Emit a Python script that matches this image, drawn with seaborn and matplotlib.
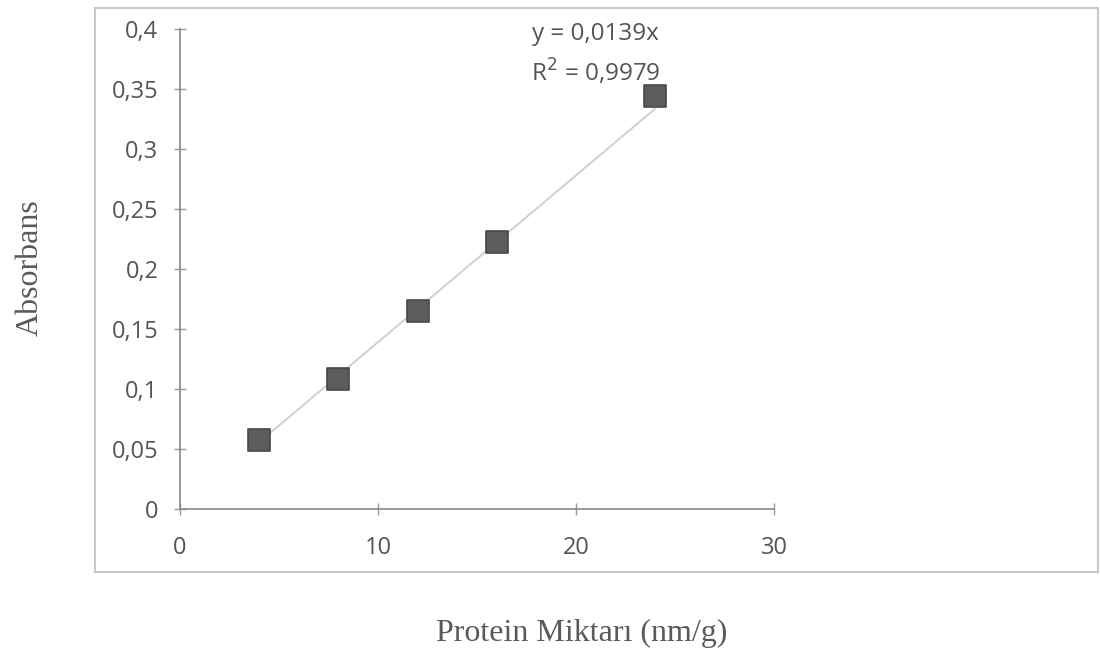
import pandas as pd
import seaborn as sns
import matplotlib.pyplot as plt
from matplotlib.patches import Rectangle
from matplotlib.ticker import FuncFormatter

# Protein standard curve values
protein = [4, 8, 12, 16, 24]
absorbance = [0.0575, 0.108, 0.165, 0.2225, 0.344]
slope = 0.0139
r_squared = 0.9979

x_ticks = [0, 10, 20, 30]
y_ticks = [0, 0.05, 0.1, 0.15, 0.2, 0.25, 0.3, 0.35, 0.4]

df = pd.DataFrame({"protein": protein, "absorbance": absorbance})
df["trend"] = slope * df["protein"]

sns.set_style("white")
plt.rcParams["font.family"] = ["Open Sans", "DejaVu Sans"]

fig = plt.figure(figsize=(11, 6.56), dpi=100)
ax = fig.add_axes([0.1636, 0.2241, 0.54, 0.7317])

# === Trendline and points ===
sns.lineplot(data=df, x="protein", y="trend", ax=ax, color="#d0d0d0", linewidth=1.4)
sns.scatterplot(data=df, x="protein", y="absorbance", ax=ax, marker="s", s=230,
                color="#5c5c5c", edgecolor="#484848", linewidth=1.2, zorder=3)

ax.set_xlim(0, 30)
ax.set_ylim(0, 0.4)
ax.set_xticks(x_ticks)
ax.set_yticks(y_ticks)
comma = FuncFormatter(lambda v, p: f"{v:g}".replace(".", ","))
ax.xaxis.set_major_formatter(comma)
ax.yaxis.set_major_formatter(comma)
ax.tick_params(axis="both", direction="inout", length=9, width=1, color="#9a9a9a",
               labelsize=17, labelcolor="#555555", bottom=True, left=True)
ax.tick_params(axis="x", pad=15)
ax.tick_params(axis="y", pad=11)
ax.set_xlabel("")
ax.set_ylabel("")

for side in ["top", "right"]:
    ax.spines[side].set_visible(False)
for side in ["left", "bottom"]:
    ax.spines[side].set_color("#8a8a8a")
    ax.spines[side].set_linewidth(1.2)

# === Regression equation ===
ax.text(0.70, 0.99, f"y = {slope:g}x".replace(".", ","), transform=ax.transAxes,
        ha="center", va="center", fontsize=17.5, color="#555555")
ax.text(0.70, 0.91, f"R$^2$ = {r_squared:g}".replace(".", ","), transform=ax.transAxes,
        ha="center", va="center", fontsize=17.5, color="#555555")

# === Chart border box ===
fig.patches.append(Rectangle((95 / 1100, 1 - 572 / 656), (1098 - 95) / 1100, (572 - 8) / 656,
                             transform=fig.transFigure, fill=False,
                             edgecolor="#c8c8c8", linewidth=1.5))

# === Axis titles outside the box ===
fig.text(30 / 1100, 1 - 268 / 656, "Absorbans", rotation=90, ha="center", va="center",
         fontsize=23, color="#5a5a5a", family=["Liberation Serif", "DejaVu Serif"])
fig.text(582 / 1100, 1 - 633 / 656, "Protein Miktarı (nm/g)", ha="center", va="center",
         fontsize=23, color="#5a5a5a", family=["Liberation Serif", "DejaVu Serif"])

plt.savefig("out.png", dpi=100)
